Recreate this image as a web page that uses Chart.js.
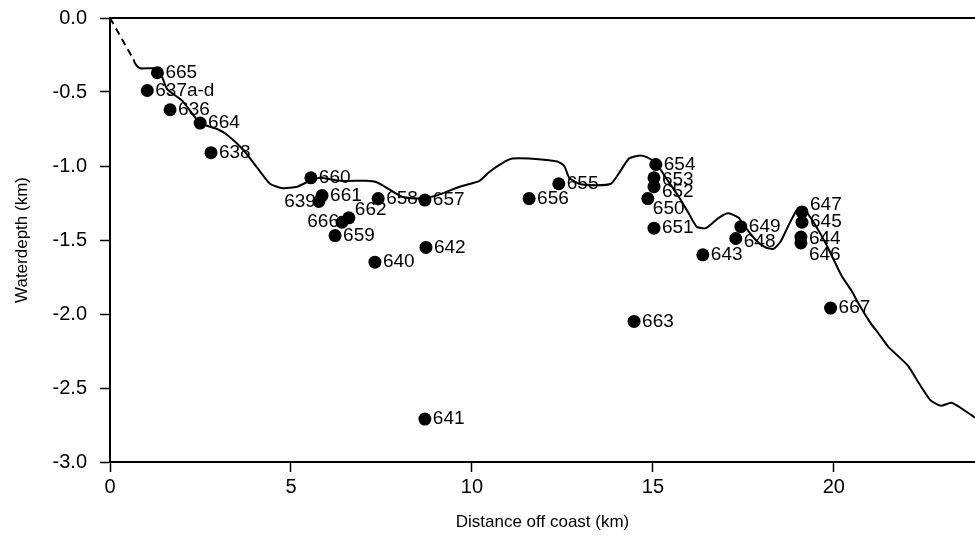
<!DOCTYPE html>
<html>
<head>
<meta charset="utf-8">
<script src="https://cdn.jsdelivr.net/npm/chart.js@4.4.1/dist/chart.umd.min.js"></script>
<style>
  body { margin: 0; background: #fff; }
  #wrap { width: 975px; height: 536px; }
</style>
</head>
<body>
<div id="wrap"><canvas id="depthChart" width="975" height="536"></canvas></div>
<script>
// sample sites (km off coast, waterdepth km)
const siteNames = ['665', '637a-d', '636', '664', '638', '660', '661', '639', '662', '666', '659', '658', '657', '642', '640', '641',
    '656', '655', '654', '653', '652', '650', '651', '663', '643', '649', '648', '647', '645', '644', '646', '667'];
const siteDistance = [1.31, 1.03, 1.66, 2.49, 2.79, 5.55, 5.86, 5.77, 6.60, 6.41, 6.22, 7.41, 8.70, 8.73, 7.32, 8.70,
    11.58, 12.40, 15.08, 15.03, 15.03, 14.86, 15.03, 14.48, 16.38, 17.43, 17.29, 19.12, 19.12, 19.09, 19.09, 19.91];
const siteDepth = [-0.37, -0.49, -0.62, -0.71, -0.91, -1.08, -1.20, -1.24, -1.35, -1.38, -1.47, -1.22, -1.23, -1.55, -1.65, -2.71,
    -1.22, -1.12, -0.99, -1.08, -1.14, -1.22, -1.42, -2.05, -1.60, -1.41, -1.49, -1.31, -1.38, -1.48, -1.52, -1.96];

// seafloor profile
const shelfDistance = [0, 0.65];
const shelfDepth = [0, -0.28];
const profileDistance = [0.65, 0.70, 0.84, 1.20, 1.39, 1.58, 2.00, 2.49, 2.96, 3.24, 3.68, 4.06, 4.42, 4.78, 5.17, 5.44, 5.80,
    6.35, 7.09, 7.37, 7.73, 8.09, 8.55, 9.02, 9.66, 10.21, 10.48, 10.84, 11.12, 11.58, 12.36, 12.55, 12.69, 12.96, 13.43,
    13.84, 14.06, 14.34, 14.61, 14.83, 15.08, 15.36, 15.72, 15.99, 16.21, 16.46, 16.82, 17.09, 17.37, 17.51, 17.84, 18.11,
    18.33, 18.53, 18.75, 18.97, 19.10, 19.24, 19.49, 19.77, 19.99, 20.21, 20.48, 20.73, 21.01, 21.23, 21.50, 22.05, 22.33,
    22.66, 22.96, 23.24, 23.48, 23.90];
const profileDepth = [-0.28, -0.31, -0.34, -0.34, -0.37, -0.48, -0.56, -0.71, -0.75, -0.79, -0.89, -1.01, -1.12, -1.15, -1.14,
    -1.11, -1.08, -1.10, -1.10, -1.11, -1.16, -1.21, -1.22, -1.20, -1.14, -1.10, -1.04, -0.98, -0.95, -0.95, -0.97, -1.00,
    -1.08, -1.12, -1.13, -1.12, -1.05, -0.95, -0.93, -0.94, -0.98, -1.08, -1.21, -1.32, -1.41, -1.42, -1.35, -1.32, -1.35,
    -1.40, -1.50, -1.55, -1.56, -1.51, -1.40, -1.30, -1.28, -1.31, -1.40, -1.52, -1.63, -1.74, -1.84, -1.95, -2.06, -2.13,
    -2.22, -2.35, -2.46, -2.58, -2.62, -2.60, -2.63, -2.70];

const xTicks = [0, 5, 10, 15, 20];

// where a label sits relative to its dot (default: right of it)
const labelNudge = {
    '639': { side: 'left' }, '666': { side: 'left' },
    '662': { dx: 6, dy: -8 }, '650': { dx: 5, dy: 10 }, '652': { dy: 5 }, '653': { dy: 2 },
    '648': { dy: 3 }, '647': { dy: -7 }, '644': { dy: 2 }, '646': { dy: 12 }
};

const FONT = '"Liberation Sans", Arial, sans-serif';
const pts = (xs, ys) => xs.map((x, i) => ({ x, y: ys[i] }));

const siteLabels = {
    id: 'siteLabels',
    afterDatasetsDraw(chart) {
        const ctx = chart.ctx, meta = chart.getDatasetMeta(0);
        ctx.save();
        ctx.font = '19px ' + FONT; ctx.fillStyle = '#000'; ctx.textBaseline = 'middle';
        meta.data.forEach((el, i) => {
            const n = labelNudge[siteNames[i]] || {};
            if (n.side === 'left') { ctx.textAlign = 'right'; ctx.fillText(siteNames[i], el.x - 3, el.y + (n.dy || 0)); }
            else { ctx.textAlign = 'left'; ctx.fillText(siteNames[i], el.x + (n.dx || 8), el.y + (n.dy || 0)); }
        });
        // top frame line
        const a = chart.chartArea;
        ctx.strokeStyle = '#000'; ctx.lineWidth = 2;
        ctx.beginPath(); ctx.moveTo(a.left, a.top); ctx.lineTo(a.right, a.top); ctx.stroke();
        ctx.restore();
    }
};

new Chart(document.getElementById('depthChart'), {
    type: 'scatter',
    data: {
        datasets: [
            { data: pts(siteDistance, siteDepth), backgroundColor: '#000', borderWidth: 0, pointRadius: 6.5 },
            { type: 'line', data: pts(profileDistance, profileDepth), borderColor: '#000', borderWidth: 2, pointRadius: 0, tension: 0.2, fill: false },
            { type: 'line', data: pts(shelfDistance, shelfDepth), borderColor: '#000', borderWidth: 2, borderDash: [7, 5], pointRadius: 0, fill: false }
        ]
    },
    options: {
        responsive: false, animation: false, devicePixelRatio: 1,
        layout: { autoPadding: false, padding: { top: 18, right: 0, left: 0, bottom: 0 } },
        plugins: { legend: { display: false }, tooltip: { enabled: false } },
        scales: {
            x: {
                type: 'linear', min: 0, max: 23.9,
                afterBuildTicks: s => { s.ticks = xTicks.map(v => ({ value: v })); },
                afterFit: s => { s.height = 74; s.paddingLeft = 0; s.paddingRight = 0; },
                grid: { drawOnChartArea: false, tickLength: 10, tickColor: '#000', tickWidth: 1.5 },
                border: { color: '#000', width: 2 },
                ticks: { color: '#000', font: { family: FONT, size: 20 }, padding: 3, maxRotation: 0 },
                title: { display: true, text: 'Distance off coast (km)', color: '#000', font: { family: FONT, size: 17 }, padding: { top: 0, bottom: 3 } }
            },
            y: {
                min: -3, max: 0,
                afterFit: s => { s.width = 110; s.paddingTop = 0; s.paddingBottom = 0; },
                grid: { drawOnChartArea: false, tickLength: 10, tickColor: '#000', tickWidth: 1.5 },
                border: { color: '#000', width: 2 },
                ticks: { stepSize: 0.5, color: '#000', font: { family: FONT, size: 20 }, padding: 13, callback: v => v.toFixed(1) },
                title: { display: true, text: 'Waterdepth (km)', color: '#000', font: { family: FONT, size: 17 }, padding: { top: 12, bottom: 0 } }
            }
        }
    },
    plugins: [siteLabels]
});
</script>
</body>
</html>
